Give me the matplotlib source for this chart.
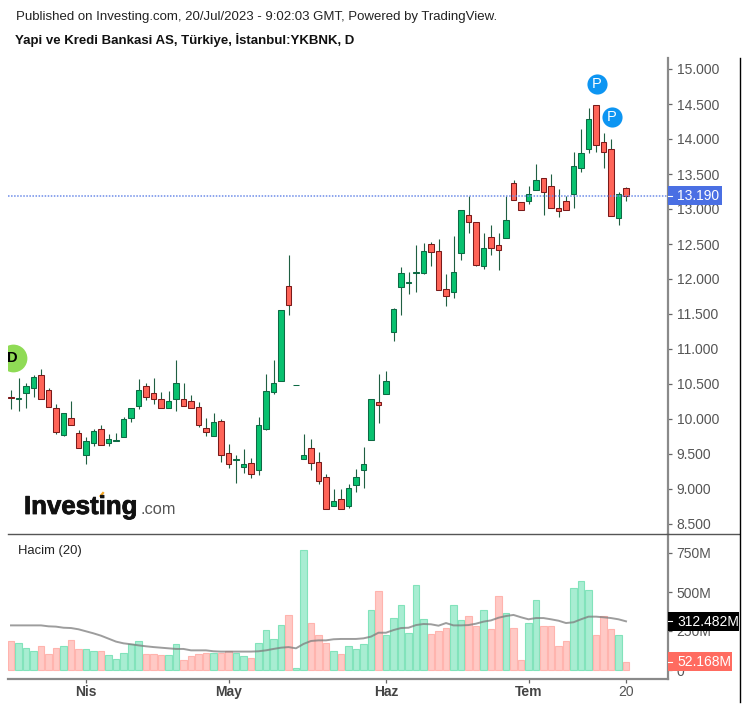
import matplotlib
matplotlib.use('Agg')
import matplotlib.pyplot as plt
import matplotlib.patheffects as pe
from matplotlib.patches import Rectangle
from matplotlib.lines import Line2D
from matplotlib.transforms import offset_copy, IdentityTransform

plt.rcParams['font.family'] = ['Liberation Sans', 'DejaVu Sans']

W, H = 747, 707

opens = [10.31, 10.29, 10.37, 10.45, 10.63, 10.42, 10.15, 9.77, 10.02, 9.80,
         9.49, 9.66, 9.85, 9.65, 9.69, 9.74, 10.01, 10.18, 10.47, 10.37,
         10.28, 10.16, 10.28, 10.28, 10.26, 10.17, 9.87, 9.75, 9.97, 9.51,
         9.41, 9.31, 9.37, 9.27, 9.86, 10.39, 10.54, 11.90, 10.48, 9.43,
         9.58, 9.38, 9.17, 8.76, 8.85, 8.76, 9.06, 9.27, 9.70, 10.24,
         10.36, 11.24, 11.88, 11.94, 12.09, 12.09, 12.50, 12.40, 11.86, 11.81,
         12.37, 12.92, 12.82, 12.18, 12.60, 12.49, 12.58, 13.37, 13.10, 13.11,
         13.27, 13.44, 13.33, 13.02, 13.11, 13.22, 13.58, 13.86, 14.48, 13.95,
         13.85, 12.87, 13.30]
closes = [10.30, 10.30, 10.47, 10.60, 10.29, 10.17, 9.81, 10.08, 9.91, 9.58,
          9.69, 9.83, 9.63, 9.72, 9.70, 10.00, 10.15, 10.42, 10.32, 10.28,
          10.16, 10.26, 10.51, 10.19, 10.16, 9.92, 9.81, 9.95, 9.49, 9.36,
          9.42, 9.35, 9.22, 9.92, 10.40, 10.51, 11.55, 11.63, 10.48, 9.49,
          9.37, 9.11, 8.72, 8.83, 8.72, 9.02, 9.17, 9.35, 10.28, 10.20,
          10.54, 11.57, 12.08, 11.95, 12.10, 12.40, 12.38, 11.84, 11.75, 12.10,
          12.99, 12.81, 12.20, 12.45, 12.45, 12.42, 12.85, 13.13, 12.99, 13.22,
          13.42, 13.25, 13.02, 12.97, 12.99, 13.61, 13.80, 14.28, 13.92, 13.82,
          12.90, 13.22, 13.19]
highs = [10.42, 10.58, 10.52, 10.63, 10.72, 10.44, 10.21, 10.08, 10.26, 9.84,
         9.74, 9.85, 9.91, 9.78, 9.80, 10.03, 10.15, 10.57, 10.52, 10.59,
         10.39, 10.40, 10.85, 10.51, 10.34, 10.24, 10.01, 10.08, 10.00, 9.64,
         9.48, 9.57, 9.44, 10.03, 10.64, 10.85, 11.55, 12.34, 10.48, 9.78,
         9.71, 9.53, 9.22, 9.00, 9.00, 9.07, 9.28, 9.60, 10.28, 10.64,
         10.69, 11.58, 12.17, 12.10, 12.48, 12.51, 12.53, 12.57, 12.07, 12.61,
         12.99, 13.19, 12.82, 12.65, 12.77, 12.65, 13.18, 13.41, 13.10, 13.33,
         13.64, 13.45, 13.50, 13.28, 13.19, 13.82, 14.14, 14.44, 14.48, 14.08,
         14.00, 13.24, 13.32]
lows = [10.14, 10.12, 10.16, 10.32, 10.29, 10.17, 9.79, 9.75, 9.91, 9.58,
        9.36, 9.62, 9.63, 9.62, 9.68, 9.74, 9.96, 10.14, 10.27, 10.21,
        10.15, 10.16, 10.12, 10.18, 10.15, 9.88, 9.76, 9.75, 9.38, 9.30,
        9.09, 9.23, 9.16, 9.20, 9.84, 10.36, 10.54, 11.48, 10.48, 9.43,
        9.27, 9.07, 8.72, 8.76, 8.72, 8.73, 8.96, 9.02, 9.70, 9.95,
        10.36, 11.11, 11.48, 11.79, 11.82, 12.07, 12.18, 11.84, 11.61, 11.73,
        12.27, 12.66, 12.18, 12.14, 12.34, 12.13, 12.58, 13.13, 12.99, 13.07,
        13.27, 12.91, 13.02, 12.89, 12.99, 13.02, 13.53, 13.80, 13.82, 13.59,
        12.90, 12.77, 13.11]
# volume in millions
volumes = [184, 175, 143, 120, 152, 103, 143, 152, 190, 135,
           135, 120, 120, 94, 71, 111, 167, 184, 103, 103,
           94, 94, 167, 62, 88, 103, 111, 111, 111, 120,
           111, 88, 79, 175, 254, 199, 286, 350, 15, 767,
           303, 222, 175, 120, 103, 152, 135, 167, 383, 504,
           222, 335, 415, 239, 543, 327, 231, 248, 271, 415,
           318, 344, 280, 383, 263, 472, 368, 271, 62, 303,
           447, 280, 280, 152, 184, 528, 568, 511, 222, 344,
           263, 222, 52]
vol_ma = [286, 286, 286, 286, 286, 280, 278, 271, 269, 261,
          248, 235, 220, 201, 182, 171, 165, 158, 152, 147,
          143, 139, 135, 135, 126, 126, 126, 120, 118, 118,
          118, 118, 118, 120, 126, 135, 143, 147, 139, 167,
          186, 190, 190, 197, 199, 199, 199, 203, 214, 239,
          239, 256, 269, 271, 288, 295, 293, 284, 301, 286,
          286, 288, 297, 310, 318, 335, 346, 353, 338, 325,
          333, 333, 325, 316, 301, 306, 325, 342, 342, 338,
          333, 325, 312]

month_idx = [10, 29, 50, 69, 82]
month_labels = ['Nis', 'May', 'Haz', 'Tem', '20']
price_ticks = [8.5, 9, 9.5, 10, 10.5, 11, 11.5, 12, 12.5, 13, 13.5, 14, 14.5, 15]
vol_ticks = [0, 250, 500, 750]
vol_tick_labels = ['0', '250M', '500M', '750M']
pivot_idx = [78, 80]
div_idx = [0]

UP, DOWN = '#08c16f', '#ff6458'
UP_EDGE, DOWN_EDGE = '#0d6a44', '#7a1a1a'
WICK = '#1f5f42'
VOL_UP, VOL_DOWN = '#a8edd2', '#ffc9c5'
VOL_UP_EDGE, VOL_DOWN_EDGE = '#82e3bb', '#ffb4ae'
TICK_TEXT = '#555555'
AXIS = '#8a8a8a'


def pane(left, top, right, bottom):
    return [left / W, 1 - bottom / H, (right - left) / W, (bottom - top) / H]


def label(x, y, text, **kw):
    return fig.text(x / W, 1 - y / H, text, **kw)


def tag(ax, value, text, color, right):
    # value box that sits over the right axis, placed in pixels
    y = ax.transData.transform((0, value))[1]
    fig.add_artist(Rectangle((668, y - 9.5), right - 668, 19, facecolor=color,
                             edgecolor='none', transform=IdentityTransform(), zorder=5))
    fig.add_artist(Line2D([668, 672], [y, y], color='white', lw=0.8,
                          transform=IdentityTransform(), zorder=6))
    fig.text(677, y - 0.5, text, color='white', fontsize=10, va='center',
             transform=IdentityTransform(), zorder=6)


fig = plt.figure(figsize=(W / 100, H / 100), dpi=100, facecolor='white')
ax = fig.add_axes(pane(8, 58, 668, 534))
vax = fig.add_axes(pane(8, 534, 668, 679), sharex=ax)

idx = list(range(len(opens)))
is_up = [c >= o for o, c in zip(opens, closes)]

# candles
ax.vlines(idx, lows, highs, color=WICK, lw=0.8, zorder=2)
ax.bar(idx, [max(abs(c - o), 0.012) for o, c in zip(opens, closes)],
       bottom=[min(o, c) for o, c in zip(opens, closes)], width=0.7,
       color=[UP if u else DOWN for u in is_up],
       edgecolor=[UP_EDGE if u else DOWN_EDGE for u in is_up], linewidth=0.75, zorder=3)
ax.axhline(closes[-1], color='#6d8ce8', lw=1.1, ls=(0, (1, 1)), zorder=4)

ax.set_xlim(-0.4, 87.6)
ax.set_ylim(15 - 476 / 70 + 11 / 70, 15 + 11 / 70)
ax.yaxis.tick_right()
ax.set_yticks(price_ticks)
ax.set_yticklabels([f'{p:.3f}' for p in price_ticks])
ax.tick_params(axis='y', length=3, width=0.9, color='#666666', labelcolor=TICK_TEXT,
               labelsize=10, pad=3.2)
ax.tick_params(axis='x', bottom=False, labelbottom=False)
for s in ['top', 'left', 'bottom']:
    ax.spines[s].set_visible(False)
ax.spines['right'].set_color(AXIS)
ax.spines['right'].set_linewidth(1.6)

# pivot and dividend bubbles above the candle highs
up_pivot = offset_copy(ax.transData, fig=fig, x=0.6, y=15.5, units='points')
for i in pivot_idx:
    ax.plot(i, highs[i], 'o', ms=14.5, color='#0d95f2', mec='none', transform=up_pivot, zorder=6)
    ax.text(i, highs[i], 'P', color='white', fontsize=10.5, ha='center', va='center',
            transform=up_pivot, zorder=7)
up_div = offset_copy(ax.transData, fig=fig, x=1.2, y=22.5, units='points')
for i in div_idx:
    ax.plot(i, highs[i], 'o', ms=20, color='#8fdb55', mec='none', transform=up_div, zorder=6)
    ax.text(i, highs[i], 'D', color='black', fontsize=10.5, fontweight='bold', ha='center',
            va='center', transform=up_div, zorder=7, clip_on=True)

# volume pane
vax.bar(idx, volumes, width=0.92, color=[VOL_UP if u else VOL_DOWN for u in is_up],
        edgecolor=[VOL_UP_EDGE if u else VOL_DOWN_EDGE for u in is_up], linewidth=0.8, zorder=2)
vax.plot(idx, vol_ma, color='#7d7d7d', alpha=0.75, lw=1.4, zorder=3)
vax.set_ylim(-9 / 0.156, 136 / 0.156)
vax.yaxis.tick_right()
vax.set_yticks(vol_ticks)
vax.set_yticklabels(vol_tick_labels)
vax.tick_params(axis='y', length=3, width=0.9, color='#666666', labelcolor=TICK_TEXT,
                labelsize=10, pad=3.2)
vax.set_xticks(month_idx)
vax.set_xticklabels(month_labels)
vax.tick_params(axis='x', length=3, width=0.9, color='#666666', labelcolor='#444444',
                labelsize=10, pad=1.5)
for t in vax.get_xticklabels()[:-1]:
    t.set_fontweight('bold')
vax.get_xticklabels()[-1].set_color(TICK_TEXT)
for s in ['top', 'left']:
    vax.spines[s].set_visible(False)
for s in ['right', 'bottom']:
    vax.spines[s].set_color(AXIS)
    vax.spines[s].set_linewidth(1.6)

# pane separator and outer frame line
fig.add_artist(Line2D([8 / W, 739 / W], [1 - 534 / H] * 2, color='#555555', lw=1.0))
fig.add_artist(Line2D([739.5 / W] * 2, [1 - 58 / H, 1 - 702 / H], color='black', lw=1.0))

label(16, 17, 'Published on Investing.com, 20/Jul/2023 - 9:02:03 GMT, Powered by TradingView.',
      fontsize=9.55, color='#222222', va='center')
label(15, 40, 'Yapi ve Kredi Bankasi AS, Türkiye, İstanbul:YKBNK, D',
      fontsize=9.5, fontweight='bold', color='#111111', va='center')
label(18, 551, 'Hacim (20)', fontsize=9.4, color='#222222', va='center')

# logo
logo = label(24, 514, 'Investing', fontsize=18.6, fontweight='bold', color='#111111', va='baseline')
logo.set_path_effects([pe.withStroke(linewidth=0.6, foreground='#111111')])
label(140, 514, '.com', fontsize=11.8, color='#555555', va='baseline')
fig.add_artist(Line2D([100.5 / W, 103 / W], [1 - 496 / H, 1 - 493 / H], color='#f5a623', lw=1.6))

fig.canvas.draw()
tag(ax, closes[-1], f'{closes[-1]:.3f}', '#4a6fe3', 722)
tag(vax, vol_ma[-1] + 0.482, f'{vol_ma[-1] + 0.482:.3f}M', 'black', 739)
tag(vax, 52.168, '52.168M', '#ff6b60', 732)

fig.savefig('out.png', dpi=100, facecolor='white')
